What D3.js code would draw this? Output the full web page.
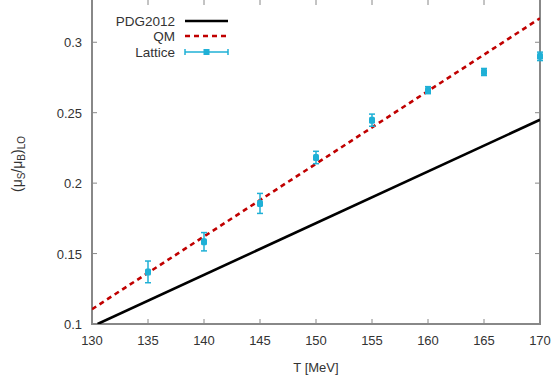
<!DOCTYPE html>
<html><head><meta charset="utf-8">
<script src="https://cdn.jsdelivr.net/npm/d3@7"></script>
<style>
html,body{margin:0;padding:0;background:#fff;}
svg text{font-family:"Liberation Sans",Arial,sans-serif;}
</style></head>
<body><svg id="c" width="555" height="381"></svg>
<script>
const xTicks = [130,135,140,145,150,155,160,165,170];
const yTicks = [0.1,0.15,0.2,0.25,0.3];
const yTickLabels = ["0.1","0.15","0.2","0.25","0.3"];
const pdgT = [130.5, 170];
const pdgV = [0.1, 0.245];
const qmT = [130, 170];
const qmV = [0.1105, 0.317];
const latT = [135,140,145,150,155,160,165,170];
const latV = [0.137,0.1584,0.1856,0.2182,0.2447,0.266,0.2789,0.290];
const latErr = [0.0077,0.0065,0.0071,0.0044,0.0043,0.0025,0.0025,0.003];

const svg = d3.select("#c");
const L=92, R=540, T=0, B=324;
const x = d3.scaleLinear().domain([130,170]).range([L,R]);
const y = d3.scaleLinear().domain([0.1,0.33]).range([B,T]);
const grey="#888", txt="#333";

// frame
svg.append("rect").attr("x",L).attr("y",T-1).attr("width",R-L).attr("height",B-T+1)
  .attr("fill","none").attr("stroke",grey).attr("stroke-width",2);
// ticks (inward, mirrored)
xTicks.forEach(t=>{
  if(t===130||t===170) return;
  svg.append("line").attr("x1",x(t)).attr("x2",x(t)).attr("y1",B).attr("y2",B-5).attr("stroke",grey);
  svg.append("line").attr("x1",x(t)).attr("x2",x(t)).attr("y1",T).attr("y2",T+5).attr("stroke",grey);
});
yTicks.forEach(t=>{
  if(t===0.1) return;
  svg.append("line").attr("x1",L).attr("x2",L+5).attr("y1",y(t)).attr("y2",y(t)).attr("stroke",grey);
  svg.append("line").attr("x1",R).attr("x2",R-5).attr("y1",y(t)).attr("y2",y(t)).attr("stroke",grey);
});
// tick labels
svg.append("g").selectAll("text").data(xTicks).join("text")
  .attr("x",d=>x(d)).attr("y",345).attr("text-anchor","middle")
  .attr("font-size",13).attr("fill",txt).text(d=>d);
svg.append("g").selectAll("text").data(yTicks).join("text")
  .attr("x",82).attr("y",d=>y(d)+5).attr("text-anchor","end")
  .attr("font-size",13).attr("fill",txt).text((d,i)=>yTickLabels[i]);
// axis labels
svg.append("text").attr("x",(L+R)/2).attr("y",372).attr("text-anchor","middle")
  .attr("font-size",13).attr("fill",txt).text("T [MeV]");
const yl = svg.append("text").attr("transform","translate(22,164) rotate(-90)")
  .attr("text-anchor","middle").attr("font-size",14).attr("fill",txt);
yl.append("tspan").text("(μ");
yl.append("tspan").attr("font-size",10).attr("dy",3).text("S");
yl.append("tspan").attr("dy",-3).text("/μ");
yl.append("tspan").attr("font-size",10).attr("dy",3).text("B");
yl.append("tspan").attr("dy",-3).text(")");
yl.append("tspan").attr("font-size",10).attr("dy",3).text("LO");

const clip = svg.append("defs").append("clipPath").attr("id","cp")
  .append("rect").attr("x",L).attr("y",T).attr("width",R-L).attr("height",B-T);
const plot = svg.append("g").attr("clip-path","url(#cp)");
const line = d3.line().x(d=>x(d[0])).y(d=>y(d[1]));
plot.append("path").attr("d",line(pdgT.map((t,i)=>[t,pdgV[i]])))
  .attr("fill","none").attr("stroke","#000").attr("stroke-width",2.6);
plot.append("path").attr("d",line(qmT.map((t,i)=>[t,qmV[i]])))
  .attr("fill","none").attr("stroke","#c00000").attr("stroke-width",2.6).attr("stroke-dasharray","5,4");

const cyan="#1fb0d6";
const lg = svg.append("g");
latT.forEach((t,i)=>{
  const cx=x(t), v=latV[i], e=latErr[i];
  lg.append("line").attr("x1",cx).attr("x2",cx).attr("y1",y(v+e)).attr("y2",y(v-e)).attr("stroke",cyan).attr("stroke-width",1.5);
  [v+e,v-e].forEach(w=>lg.append("line").attr("x1",cx-3).attr("x2",cx+3).attr("y1",y(w)).attr("y2",y(w)).attr("stroke",cyan).attr("stroke-width",1.5));
  lg.append("rect").attr("x",cx-3).attr("y",y(v)-3.5).attr("width",6).attr("height",7).attr("rx",1.5).attr("fill",cyan);
});

// legend
const leg=[{n:"PDG2012",y:21},{n:"QM",y:36},{n:"Lattice",y:52}];
leg.forEach(d=>svg.append("text").attr("x",175).attr("y",d.y+5).attr("text-anchor","end")
  .attr("font-size",13.5).attr("fill",txt).text(d.n));
svg.append("line").attr("x1",185).attr("x2",228).attr("y1",21).attr("y2",21).attr("stroke","#000").attr("stroke-width",2.6);
svg.append("line").attr("x1",185).attr("x2",228).attr("y1",36).attr("y2",36).attr("stroke","#c00000").attr("stroke-width",2.6).attr("stroke-dasharray","5,4");
svg.append("line").attr("x1",185).attr("x2",228).attr("y1",52).attr("y2",52).attr("stroke",cyan).attr("stroke-width",1.5);
[185,228].forEach(xx=>svg.append("line").attr("x1",xx).attr("x2",xx).attr("y1",49).attr("y2",55).attr("stroke",cyan).attr("stroke-width",1.5));
svg.append("rect").attr("x",203.5).attr("y",49).attr("width",6).attr("height",6).attr("fill",cyan);
</script></body></html>
